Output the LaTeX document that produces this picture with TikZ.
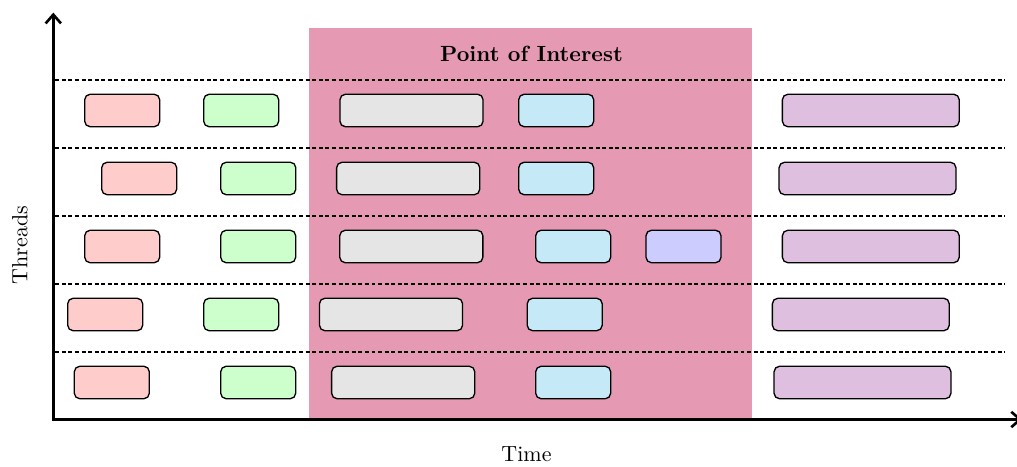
\documentclass[tikz,border=0pt]{standalone}
\usepackage{amsmath,amssymb}
\usetikzlibrary{shapes,arrows,arrows.meta,calc,positioning,backgrounds}

\definecolor{lightcyan}{RGB}{198,233,247}

\tikzset{
    task/.style = {rectangle,draw,rounded corners=2.5pt,line width=0.6pt,minimum height=0.52cm,inner sep=0pt},
    shorttask/.style = {task,minimum width=1.2cm},
    midtask/.style = {task,minimum width=2.29cm},
    longtask/.style = {task,minimum width=2.83cm},
    lane/.style = {line width=0.8pt,dash pattern=on 1.8pt off 1.2pt}
}

\begin{document}
\begin{tikzpicture}
        %\draw [help lines] (0,0) grid (15,7);
        \useasboundingbox (-0.853,-0.744) rectangle (15.419,6.712);

        \coordinate (O) at (0,0);
        \coordinate (ytop) at (0,6.51);
        \coordinate (xend) at (15.5,0);

        \fill[purple!40] (4.091,0) rectangle (11.174,6.264);
        \node (poi) at (7.651,5.856) {\textbf{Point of Interest}};

        \draw[lane] (0.03,5.432) -- (15.227,5.432);
        \draw[lane] (0.03,4.344) -- (15.227,4.344);
        \draw[lane] (0.03,3.256) -- (15.227,3.256);
        \draw[lane] (0.03,2.168) -- (15.227,2.168);
        \draw[lane] (0.03,1.080) -- (15.227,1.080);

        % thread 1
        \node [shorttask,fill=red!20] (p1) at (1.102,4.944) {};
        \node [shorttask,fill=green!20] (g1) at (3.006,4.944) {};
        \node [midtask,fill=gray!20] (s1) at (5.731,4.944) {};
        \node [shorttask,fill=lightcyan] (b1) at (8.046,4.944) {};
        \node [longtask,fill=violet!25] (v1) at (13.08,4.944) {};

        % thread 2
        \node [shorttask,fill=red!20] (p2) at (1.374,3.856) {};
        \node [shorttask,fill=green!20] (g2) at (3.280,3.856) {};
        \node [midtask,fill=gray!20] (s2) at (5.678,3.856) {};
        \node [shorttask,fill=lightcyan] (b2) at (8.046,3.856) {};
        \node [longtask,fill=violet!25] (v2) at (13.027,3.856) {};

        % thread 3
        \node [shorttask,fill=red!20] (p3) at (1.102,2.768) {};
        \node [shorttask,fill=green!20] (g3) at (3.278,2.768) {};
        \node [midtask,fill=gray!20] (s3) at (5.728,2.768) {};
        \node [shorttask,fill=lightcyan] (b3) at (8.318,2.768) {};
        \node [shorttask,fill=blue!20] (l3) at (10.083,2.768) {};
        \node [longtask,fill=violet!25] (v3) at (13.08,2.768) {};

        % thread 4
        \node [shorttask,fill=red!20] (p4) at (0.830,1.680) {};
        \node [shorttask,fill=green!20] (g4) at (3.006,1.680) {};
        \node [midtask,fill=gray!20] (s4) at (5.403,1.680) {};
        \node [shorttask,fill=lightcyan] (b4) at (8.182,1.680) {};
        \node [longtask,fill=violet!25] (v4) at (12.92,1.680) {};

        % thread 5
        \node [shorttask,fill=red!20] (p5) at (0.936,0.592) {};
        \node [shorttask,fill=green!20] (g5) at (3.278,0.592) {};
        \node [midtask,fill=gray!20] (s5) at (5.598,0.592) {};
        \node [shorttask,fill=lightcyan] (b5) at (8.318,0.592) {};
        \node [longtask,fill=violet!25] (v5) at (12.947,0.592) {};

        \draw[{Straight Barb[length=4pt,width=7pt]}-{Straight Barb[length=4pt,width=7pt]},very thick] (ytop) -- (O) -- (xend);

        \node (time) at (7.571,-0.56) {Time};
        \node [rotate=90] (threads) at (-0.533,2.79) {Threads};

    \end{tikzpicture}
\end{document}
